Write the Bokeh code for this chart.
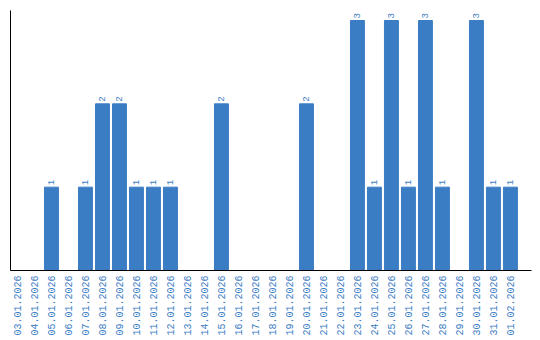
import math
from bokeh.plotting import figure
from bokeh.models import ColumnDataSource, Range1d, FixedTicker
from bokeh.core.properties import value
from bokeh.embed import file_html
from bokeh.resources import INLINE

dates = ["03.01.2026", "04.01.2026", "05.01.2026", "06.01.2026", "07.01.2026",
         "08.01.2026", "09.01.2026", "10.01.2026", "11.01.2026", "12.01.2026",
         "13.01.2026", "14.01.2026", "15.01.2026", "16.01.2026", "17.01.2026",
         "18.01.2026", "19.01.2026", "20.01.2026", "21.01.2026", "22.01.2026",
         "23.01.2026", "24.01.2026", "25.01.2026", "26.01.2026", "27.01.2026",
         "28.01.2026", "29.01.2026", "30.01.2026", "31.01.2026", "01.02.2026"]
counts = [0, 0, 1, 0, 1, 2, 2, 1, 1, 1, 0, 0, 2, 0, 0,
          0, 0, 2, 0, 0, 3, 1, 3, 1, 3, 1, 0, 3, 1, 1]

BLUE = "#3b7dc4"

idx = list(range(len(dates)))
src = ColumnDataSource(dict(x=idx, y=counts,
                            lab=[str(c) if c > 0 else "" for c in counts]))

p = figure(width=540, height=340, output_backend="svg",
           toolbar_location=None, min_border_left=10, min_border_right=9,
           min_border_top=10, min_border_bottom=70)
p.x_range = Range1d(-0.41, 30.24)
p.y_range = Range1d(0, 3.12)
p.vbar(x="x", top="y", width=0.82, source=src, color=BLUE)
p.text(x="x", y="y", text="lab", source=src, angle=math.pi / 2,
       text_align="left", text_baseline="middle", y_offset=-2,
       text_font=value("Liberation Mono"), text_font_size="9px",
       text_color=BLUE)

p.xgrid.visible = False
p.ygrid.visible = False
p.outline_line_color = None
p.background_fill_color = "white"
p.border_fill_color = "white"

p.yaxis.ticker = FixedTicker(ticks=[])
p.yaxis.major_tick_line_color = None
p.yaxis.minor_tick_line_color = None
p.yaxis.axis_line_color = "black"
p.yaxis.axis_line_width = 1

p.xaxis.ticker = FixedTicker(ticks=idx)
p.xaxis.major_label_overrides = {i: d for i, d in zip(idx, dates)}
p.xaxis.major_tick_line_color = None
p.xaxis.minor_tick_line_color = None
p.xaxis.major_tick_out = 0
p.xaxis.major_tick_in = 0
p.xaxis.axis_line_color = "black"
p.xaxis.axis_line_width = 1
p.xaxis.major_label_orientation = math.pi / 2
p.xaxis.major_label_text_font = "Liberation Mono"
p.xaxis.major_label_text_font_size = "10px"
p.xaxis.major_label_text_color = BLUE
p.xaxis.major_label_standoff = 5

open("out.html", "w").write(file_html(p, INLINE))
